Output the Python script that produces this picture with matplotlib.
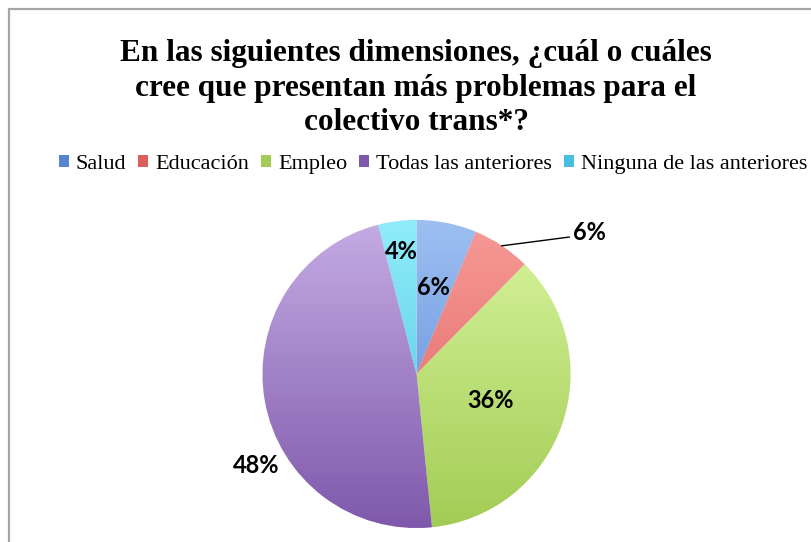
import matplotlib.pyplot as plt
import matplotlib.colors as mcolors
from matplotlib.patches import Rectangle
import numpy as np

categories = ['Salud', 'Educación', 'Empleo', 'Todas las anteriores', 'Ninguna de las anteriores']
values = [6.3, 6.1, 36.0, 47.6, 4.0]
top_colors = ['#9dbff2', '#f79a97', '#d8f59e', '#c4ace4', '#90ecfa']
bottom_colors = ['#5484d2', '#dc5f5c', '#a2cc55', '#7f58ab', '#47bedd']
# label placement: distance from centre and angle shift (deg) from wedge middle
label_dist = [0.57, 1.45, 0.51, 1.2, 0.8]
label_shift = [0, -17, 0, 19.5, 0]

title = 'En las siguientes dimensiones, ¿cuál o cuáles\ncree que presentan más problemas para el\ncolectivo trans*?'

W, H = 811, 542
fig = plt.figure(figsize=(W / 100, H / 100), dpi=100)

# light grey frame, only top and left edges visible
fig.patches.append(Rectangle((9 / W, -0.05), 1.1, (H - 9) / H + 0.05, transform=fig.transFigure,
                             fill=False, edgecolor='#a6a6a6', linewidth=1.6))

cx, cy, r = 416.5, H - 374, 154
lim = 1.03
ax = fig.add_axes([(cx - r * lim) / W, (cy - r * lim) / H, 2 * r * lim / W, 2 * r * lim / H])

wedges, _ = ax.pie(values, startangle=90, counterclock=False, radius=1,
                   colors=bottom_colors, wedgeprops=dict(linewidth=0.6, edgecolor='white'))
ax.axis('off')

# vertical gradient inside each wedge, lighter at the top
grad = np.linspace(0, 1, 256).reshape(-1, 1)
for w, c0, c1 in zip(wedges, top_colors, bottom_colors):
    cmap = mcolors.LinearSegmentedColormap.from_list('g', [c1, c0])
    im = ax.imshow(grad, cmap=cmap, extent=(-1.1, 1.1, -1, 1), origin='lower', aspect='auto', zorder=1.5)
    im.set_clip_path(w)
ax.set_xlim(-lim, lim)
ax.set_ylim(-lim, lim)

total = sum(values)
start = 90
for i, (v, d, s) in enumerate(zip(values, label_dist, label_shift)):
    mid = start - v / total * 360 / 2
    start -= v / total * 360
    a = np.deg2rad(mid + s)
    x, y = d * np.cos(a), d * np.sin(a)
    ax.text(x, y, f'{v:.0f}%', ha='center', va='center', fontsize=17, fontweight='bold',
            family='Lato', clip_on=False, zorder=5)
    if i == 1:
        m = np.deg2rad(mid)
        ex, ey = np.cos(m), np.sin(m)
        ax.plot([ex, x - 0.13], [ey, y - 0.03], color='black', lw=1,
                clip_on=False, zorder=5)

fig.text(0.513, 0.928, title, ha='center', va='top', fontsize=22.5, fontweight='bold',
         family='Liberation Serif', linespacing=1.26)

handles = [Rectangle((0, 0), 1, 1, facecolor=c) for c in bottom_colors]
fig.legend(handles, categories, loc='center', bbox_to_anchor=(0.534, 0.697), ncol=5, frameon=False,
           prop=dict(family='Liberation Serif', size=16), handlelength=0.45, handleheight=0.45,
           handletextpad=0.3, columnspacing=0.55)

plt.savefig('out.png', dpi=100)
